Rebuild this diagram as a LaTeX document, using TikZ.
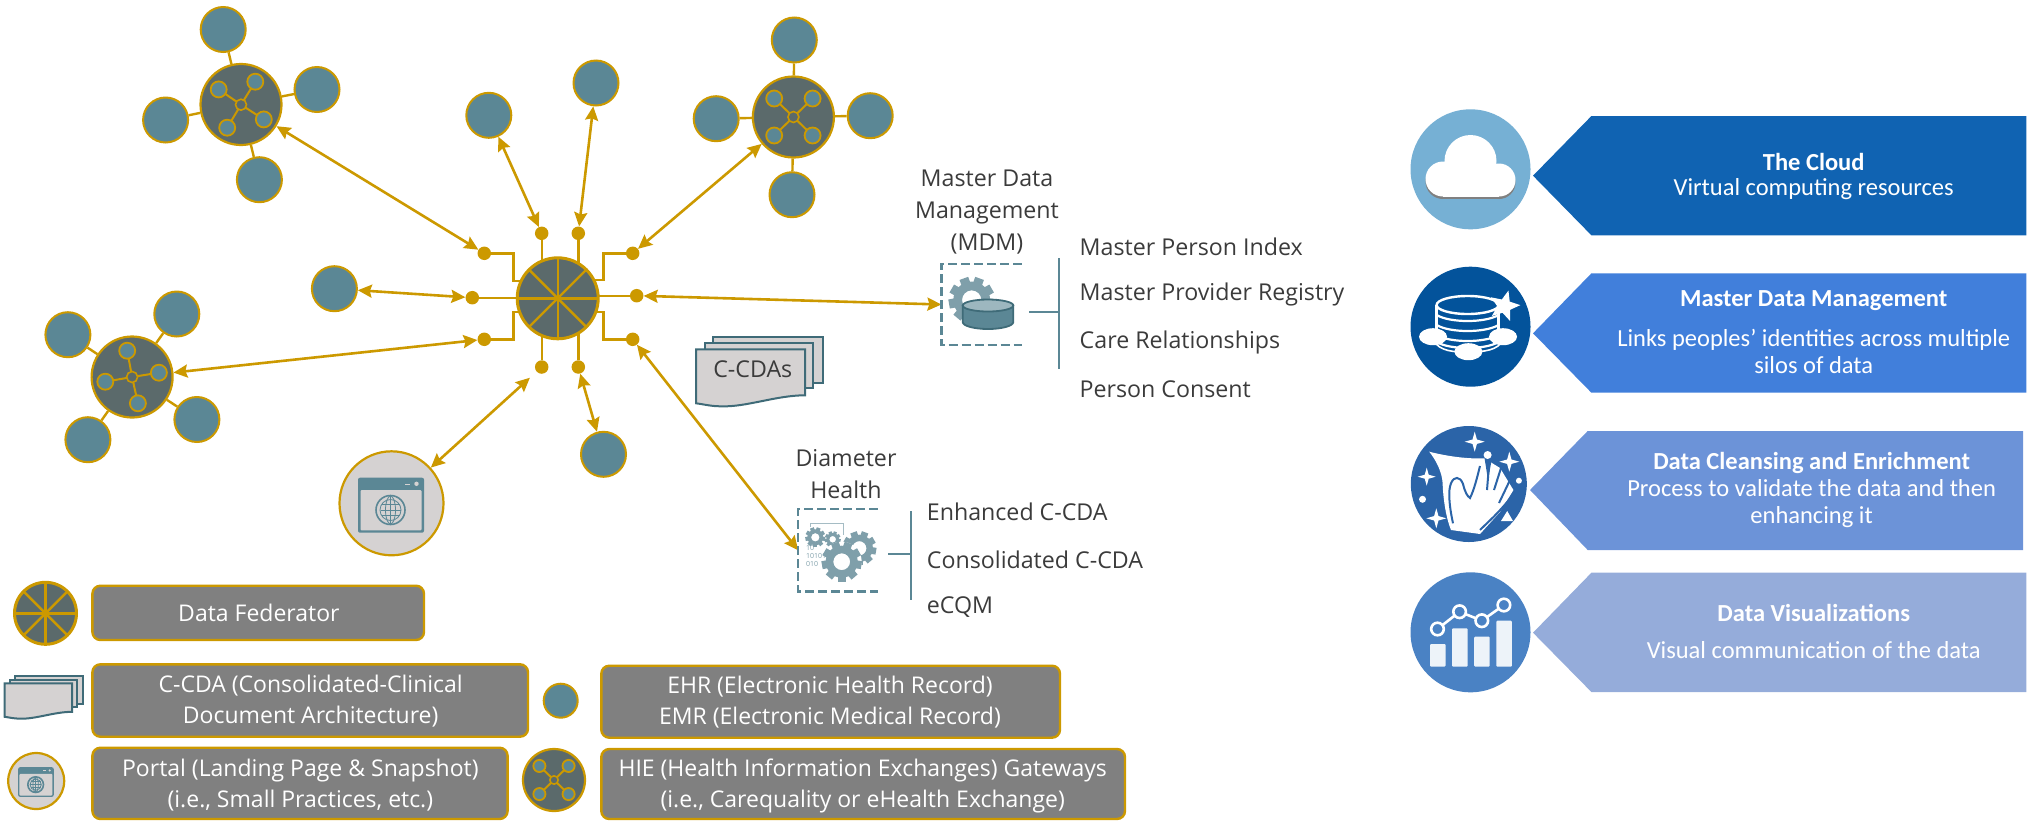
\documentclass[tikz,border=0pt]{standalone}
\usepackage{fontspec}
\setmainfont{Open Sans}
\newfontfamily\panelfont{Carlito}
\usetikzlibrary{arrows.meta,shapes.geometric,backgrounds}
\definecolor{gold}{HTML}{CC9900}
\definecolor{sat}{HTML}{5B8795}
\definecolor{hubdark}{HTML}{5B6A6B}
\definecolor{docgray}{HTML}{D5D2D2}
\definecolor{docline}{HTML}{3F6B78}
\definecolor{legendgray}{HTML}{808080}
\definecolor{inktext}{HTML}{3B3B3B}
\definecolor{gearcol}{HTML}{7F9FAA}
\definecolor{panelA}{RGB}{16,99,178}
\definecolor{panelB}{RGB}{65,127,219}
\definecolor{panelC}{RGB}{108,147,216}
\definecolor{panelD}{RGB}{149,172,218}
\definecolor{circA}{RGB}{118,176,212}
\definecolor{circB}{RGB}{3,83,155}
\definecolor{circC}{RGB}{43,100,168}
\definecolor{circD}{RGB}{74,130,196}
\newcommand{\sz}[2]{\fontsize{#1}{#2}\selectfont}
\newcommand{\hubcore}[3]{\begin{scope}[shift={#1},scale=#2]
  \foreach \dx/\dy in {#3}{\draw[gold,line width=2pt] (0,0)--(\dx,\dy);\draw[gold,line width=1.8pt,fill=sat] (\dx,\dy) circle (8);}
  \draw[gold,line width=1.6pt,fill=hubdark] (0,0) circle (5.5);
\end{scope}}
\newcommand{\fedspokes}[2]{\begin{scope}[shift={#1},scale=#2]
  \foreach \a in {0,45,90,135}{\draw[gold,line width=2.4pt] (\a:-40)--(\a:40);}
\end{scope}}
\newcommand{\fourstar}[3]{\fill[white] (#1,#2-#3) -- (#1+.22*#3,#2-.22*#3) -- (#1+#3,#2) -- (#1+.22*#3,#2+.22*#3) -- (#1,#2+#3) -- (#1-.22*#3,#2+.22*#3) -- (#1-#3,#2) -- (#1-.22*#3,#2-.22*#3) -- cycle;}
\tikzset{
  x=1pt,y=-1pt,
  satnode/.style={circle,draw=gold,fill=sat,line width=2pt,minimum size=45pt,inner sep=0pt},
  hubnode/.style={circle,draw=gold,fill=hubdark,line width=2.2pt,minimum size=81pt,inner sep=0pt},
  fednode/.style={circle,draw=gold,fill=hubdark,line width=3pt,minimum size=81pt,inner sep=0pt},
  dotnode/.style={circle,fill=gold,minimum size=13.5pt,inner sep=0pt},
  portalnode/.style={circle,draw=gold,fill=docgray,line width=2.2pt,minimum size=104pt,inner sep=0pt},
  goldline/.style={gold,line width=2.4pt},
  dbl/.style={gold,line width=2.6pt,{Stealth[length=14pt,width=13pt,inset=2pt]}-{Stealth[length=14pt,width=13pt,inset=2pt]}},
  tealline/.style={sat,line width=1.8pt},
  dashbox/.style={sat,line width=2.5pt,dash pattern=on 9pt off 4pt},
  invisbox/.style={rectangle,inner sep=0pt,draw=none},
  legend/.style={rounded corners=8pt,draw=gold,fill=legendgray,line width=2.4pt},
  legendtext/.style={text=white,align=center,font=\sz{23}{31.5}},
  inklabel/.style={text=inktext,align=center,font=\sz{23.2}{32}},
  inklist/.style={text=inktext,anchor=west,font=\sz{23.2}{25},inner sep=0pt},
  panelhead/.style={text=white,font=\panelfont\bfseries\sz{24.5}{27}},
  paneltext/.style={text=white,align=center,font=\panelfont\sz{24.5}{27}},
  docpage/.style={draw=docline,fill=docgray,line width=2pt},
  gearpic/.pic={\foreach \a in {0,40,...,320}{\fill[gearcol,rotate=\a] (-.2,.7) rectangle (.2,1);}
     \fill[gearcol,even odd rule] (0,0) circle (.8) (0,0) circle (.42);},
  docstack/.pic={
     \draw[docpage] (17,-12) rectangle (127,34);
     \draw[docpage] (9,-6) rectangle (117,39);
     \draw[docpage] (0,0) -- (109,0) -- (109,46) .. controls (80,46) and (50,58) .. (25,57) .. controls (15,57) and (8,55) .. (0,54) -- cycle;},
  portalicon/.pic={
     \fill[sat,rounded corners=2pt] (-33.5,-25.6) rectangle (32.5,29.4);
     \fill[docgray,rounded corners=1pt] (-31,-13.3) rectangle (30,27);
     \fill[docgray] (13,-19.5) rectangle (18,-18);
     \fill[docgray] (25,-19.5) circle (2.2);
     \draw[sat,line width=1.6pt] (-1,6.7) circle (14.5);
     \draw[sat,line width=.8pt] (-1,6.7) circle (10.5);
     \draw[sat,line width=.8pt] (-1,-7.8) -- (-1,21.2) (-11,6.7) -- (9,6.7) (-10,1) -- (8,1) (-10,12.4) -- (8,12.4);
     \draw[sat,line width=.8pt] (-1,6.7) ellipse (5 and 14);},
}
\begin{document}
\begin{tikzpicture}
\useasboundingbox (0,0) rectangle (2034,820);
% hubs and satellites
\node[hubnode] (h1) at (241,104.5) {};
\node[satnode] (h1a) at (223.2,29.5) {};
\node[satnode] (h1b) at (317,89.5) {};
\node[satnode] (h1c) at (165.6,120) {};
\node[satnode] (h1d) at (259.4,179.7) {};
\node[hubnode] (h2) at (132.1,377) {};
\node[satnode] (h2a) at (176.8,314) {};
\node[satnode] (h2b) at (67.9,334.7) {};
\node[satnode] (h2c) at (196.9,419.5) {};
\node[satnode] (h2d) at (87.9,439.7) {};
\node[hubnode] (h3) at (793.4,117) {};
\node[satnode] (h3a) at (794.3,40) {};
\node[satnode] (h3b) at (870.2,115.7) {};
\node[satnode] (h3c) at (716.2,118.7) {};
\node[satnode] (h3d) at (792,194.7) {};
\node[fednode] (fed) at (557.7,298.3) {};
\node[satnode] (s1) at (488.8,115.3) {};
\node[satnode] (s2) at (596,83) {};
\node[satnode] (s3) at (334.4,288.7) {};
\node[satnode] (s4) at (603.5,454.3) {};
\node[portalnode] (portal) at (391.5,503.3) {};
\pic at (391.5,503.3) {portalicon};
% dots
\node[dotnode] (d1) at (484.3,253.3) {};
\node[dotnode] (d2) at (541.7,233.3) {};
\node[dotnode] (d3) at (578.3,233.3) {};
\node[dotnode] (d4) at (632.7,253.3) {};
\node[dotnode] (d5) at (472.3,297.7) {};
\node[dotnode] (d7) at (636.7,295.7) {};
\node[dotnode] (d6) at (484.3,339.3) {};
\node[dotnode] (d8) at (632.7,339.3) {};
\node[dotnode] (d10) at (541.7,367) {};
\node[dotnode] (d9) at (578.3,367) {};
\coordinate (e1) at (513.3,281);
\coordinate (e4) at (603.3,280);
\coordinate (e6) at (513.3,311.7);
\coordinate (e8) at (603.3,311.7);
% MDM and Diameter boxes
\node[invisbox,minimum width=80pt,minimum height=81pt] (mdm) at (981.6,304.5) {};
\node[invisbox,minimum width=79.4pt,minimum height=81.7pt] (dh) at (838,550.2) {};
\coordinate (b1t) at (1059,258);
\coordinate (b1b) at (1059,369);
\coordinate (b1l) at (1029.3,312.3);
\coordinate (b2t) at (910.7,511);
\coordinate (b2b) at (910.7,600);
\coordinate (b2l) at (888.3,554);
\begin{pgfonlayer}{background}
  \foreach \h in {h1,h2,h3}{\foreach \s in {a,b,c,d}{\draw[goldline] (\h) -- (\h\s);}}
  \draw[goldline] (d1) -| (e1) -- (e1 -| fed);
  \draw[goldline] (d4) -| (e4) -- (e4 -| fed);
  \draw[goldline] (d6) -| (e6) -- (e6 -| fed);
  \draw[goldline] (d8) -| (e8) -- (e8 -| fed);
  \draw[goldline] (d2) -- (d2 |- fed);
  \draw[goldline] (d3) -- (d3 |- fed);
  \draw[goldline] (d10) -- (d10 |- fed);
  \draw[goldline] (d9) -- (d9 |- fed);
  \draw[goldline] (d5) -- (d5 -| fed);
  \draw[goldline] (d7) -- (d7 -| fed);
\end{pgfonlayer}
\hubcore{(241,104.7)}{1}{-22.3/-15.3,14.3/-23,22.8/14.7,-13.8/23}
\hubcore{(132.1,377)}{1}{-4.9/-26.3,26.8/-4.3,5.8/26.3,-26.8/4.7}
\hubcore{(793.4,117)}{1}{-19.2/-18.5,19.2/-18.5,-19.2/18.5,19.2/18.5}
\fedspokes{(557.7,298.3)}{1}
% arrows
\draw[dbl] (d1) -- (h1);
\draw[dbl] (d2) -- (s1);
\draw[dbl] (d3) -- (s2);
\draw[dbl] (d4) -- (h3);
\draw[dbl] (d5) -- (s3);
\draw[dbl] (d6) -- (h2);
\draw[dbl] (d7) -- (mdm.west);
\draw[dbl] (d8) -- (dh.west);
\draw[dbl] (d9) -- (s4);
\draw[dbl,shorten <=9pt] (d10) -- (portal);
% C-CDAs
\pic at (696,349.3) {docstack};
\node[text=inktext,font=\sz{23.2}{25},inner sep=0pt] (ccda) at (752.8,369) {C-CDAs};
% MDM
\draw[dashbox] (mdm.north east) -- (mdm.north west) -- (mdm.south west) -- (mdm.south east);
\pic[scale=23] at (971.7,300) {gearpic};
\draw[docline,line width=1.8pt,fill=sat] (962.7,305.5) -- (962.7,322) arc[start angle=180,end angle=0,x radius=25.3,y radius=7] -- (1013.3,305.5) -- cycle;
\draw[docline,line width=1.8pt,fill=sat!60!white] (988,305.5) ellipse (25.3 and 6);
\draw[tealline] (b1t) -- (b1b);
\draw[tealline] (b1l) -- (b1l -| b1t);
\node[inklabel] (mdmlabel) at (987,212) {Master Data\\Management\\(MDM)};
\node[inklist] (m1) at (1079.5,246.7) {Master Person Index};
\node[inklist] (m2) at (1079.5,294) {Master Provider Registry};
\node[inklist] (m3) at (1079.5,342) {Care Relationships};
\node[inklist] (m4) at (1079.5,389) {Person Consent};
% Diameter
\draw[dashbox] (dh.north east) -- (dh.north west) -- (dh.south west) -- (dh.south east);
\draw[gearcol!70!white,line width=1pt] (810,527) -- (810,523.5) -- (843,523.5) -- (843,535);
\pic[scale=10] at (815.3,537.3) {gearpic};
\pic[scale=8] at (832.7,539.3) {gearpic};
\pic[scale=17] at (859.3,548.3) {gearpic};
\fill[white] (841.7,561.7) circle (20);
\pic[scale=20] at (841.7,561.7) {gearpic};
\node[text=gearcol,font=\sz{7}{8},align=left,inner sep=0pt,anchor=north west] (bin) at (806,545) {10\\10101\\010};
\draw[tealline] (b2t) -- (b2b);
\draw[tealline] (b2l) -- (b2l -| b2t);
\node[inklabel] (dhlabel) at (846,473.7) {Diameter\\Health};
\node[inklist] (e1t) at (926.7,511.7) {Enhanced C-CDA};
\node[inklist] (e2t) at (926.7,559.3) {Consolidated C-CDA};
\node[inklist] (e3t) at (926.7,606.7) {eCQM};
% legend
\draw[legend] (92.4,585.7) rectangle (424,640);
\draw[legend] (92.4,664.3) rectangle (528,736.7);
\draw[legend] (92.4,747.7) rectangle (507.6,819);
\draw[legend] (601.3,665.7) rectangle (1060,737.7);
\draw[legend] (601.3,749) rectangle (1125,819);
\node[legendtext] (l1) at (258.9,613.3) {Data Federator};
\node[legendtext] (l2) at (310.7,701.3) {C-CDA (Consolidated-Clinical\\Document Architecture)};
\node[legendtext] (l3) at (300.4,785) {Portal (Landing Page \& Snapshot)\\(i.e., Small Practices, etc.)};
\node[legendtext] (l4) at (830,702.2) {EHR (Electronic Health Record)\\EMR (Electronic Medical Record)};
\node[legendtext] (l5) at (862.7,786) {HIE (Health Information Exchanges) Gateways\\(i.e., Carequality or eHealth Exchange)};
\node[fednode,minimum size=62pt] (lf) at (45.5,613.3) {};
\fedspokes{(45.5,613.3)}{.78}
\pic[scale=.62] at (4.5,683.3) {docstack};
\node[satnode,minimum size=34pt] (ls) at (560.7,700.7) {};
\node[portalnode,minimum size=56pt] (lp) at (36.2,781) {};
\pic[scale=.54] at (36.2,781) {portalicon};
\node[hubnode,minimum size=62pt] (lh) at (554,780) {};
\hubcore{(554,780)}{.76}{-19.2/-18.5,19.2/-18.5,-19.2/18.5,19.2/18.5}
% right panels
\fill[panelA] (1533,175.7) -- (1591.4,116) -- (2026.4,116) -- (2026.4,235.3) -- (1591.4,235.3) -- cycle;
\fill[panelB] (1533,333.3) -- (1591.4,273.3) -- (2026.4,273.3) -- (2026.4,392.7) -- (1591.4,392.7) -- cycle;
\fill[panelC] (1530,490) -- (1587.7,431) -- (2023,431) -- (2023,550) -- (1587.7,550) -- cycle;
\fill[panelD] (1533,632.7) -- (1591.4,572.7) -- (2026.4,572.7) -- (2026.4,692) -- (1591.4,692) -- cycle;
\node[panelhead] (p1a) at (1813.7,162.3) {The Cloud};
\node[paneltext] (p1b) at (1813.7,189) {Virtual computing resources};
\node[panelhead] (p2a) at (1813.7,300.7) {Master Data Management};
\node[paneltext] (p2b) at (1813.7,351.3) {Links peoples’ identities across multiple\\silos of data};
\node[panelhead] (p3a) at (1811.6,463.3) {Data Cleansing and Enrichment};
\node[paneltext] (p3b) at (1811.6,503.7) {Process to validate the data and then\\enhancing it};
\node[panelhead] (p4a) at (1813.7,613.3) {Data Visualizations};
\node[paneltext] (p4b) at (1813.7,650) {Visual communication of the data};
% cloud icon
\fill[circA] (1470.5,169.3) circle (60);
\begin{scope}[shift={(0,2.5)}]
\fill[gray] (1443,179) circle (17.5);
\fill[gray] (1499,180) circle (16.5);
\fill[gray] (1443,179) rectangle (1499,196.5);
\end{scope}
\fill[white] (1443,179) circle (17.5);
\fill[white] (1450,170) circle (10);
\fill[white] (1470.5,161) circle (26);
\fill[white] (1499,180) circle (16.5);
\fill[white] (1443,175) rectangle (1499,196.5);
% MDM icon
\fill[circB] (1470.5,326.7) circle (60);
\draw[white,line width=2.4pt] (1467.6,305) ellipse (31 and 9);
\draw[white,line width=2.4pt] (1436.6,305) -- (1436.6,338) (1498.6,305) -- (1498.6,338);
\foreach \yy in {315,325,335,342}{\draw[white,line width=2.2pt] (1436.6,\yy) .. controls (1450,\yy+8) and (1485,\yy+8) .. (1498.6,\yy);}
\draw[white,line width=1.6pt] (1433,340) .. controls (1440,352) and (1455,352) .. (1468,352) .. controls (1485,352) and (1498,350) .. (1503,340);
\fill[white] (1433,336.7) ellipse (14 and 8.5);
\fill[white] (1503,336.7) ellipse (14 and 8.5);
\fill[white] (1468.4,351.7) ellipse (14 and 8.5);
\node[star,star points=5,star point ratio=2.3,fill=white,minimum size=32pt,inner sep=0pt,rotate=-15] (mstar) at (1504.3,306) {};
% cleansing icon
\fill[circC] (1468.8,484) circle (58);
\fill[white] (1429.2,451.7) .. controls (1450,457) and (1470,459) .. (1484.3,458.3) -- (1500,468) -- (1513.4,490) -- (1500,512) -- (1480,534) -- (1451,530) .. controls (1445,515) and (1443,495) .. (1442.6,483) .. controls (1442,472) and (1436,460) .. (1429.2,451.7) -- cycle;
\fill[circC] (1484.5,458) -- (1492,458) -- (1488,480) -- cycle;
\draw[line width=2pt,draw=circC] (1453,523.3) .. controls (1449,505) and (1448,490) .. (1451,483.3) .. controls (1454,476) and (1460,476) .. (1463,484) .. controls (1465,492) and (1467,496) .. (1470,498) .. controls (1474,490) and (1477,478) .. (1480,466);
\draw[line width=2pt,draw=circC] (1487,490) -- (1489,465) (1494,490) -- (1501,468) (1499,503) -- (1510,480) (1480,530) .. controls (1490,520) and (1500,512) .. (1515,492);
\fourstar{1474.7}{441.7}{10}
\fourstar{1509.3}{461.7}{10}
\fourstar{1426.7}{476.7}{9}
\fourstar{1436.3}{518.3}{10}
\fill[white] (1487.6,455) circle (4);
\fill[white] (1518.9,480.7) circle (3);
\fill[white] (1422.5,499.3) circle (3.5);
\fill[white] (1507.2,511) -- (1513,521) -- (1501,521) -- cycle;
% chart icon
\fill[circD] (1470.5,632.3) circle (60);
\foreach \xa/\xb/\yt in {1430/1445.5/644,1452/1467.6/628.3,1474.2/1489.7/636.7,1496.3/1511.8/620.7}{
  \fill[white!90!circD,rounded corners=1pt] (\xa,\yt) rectangle (\xb,666.7);}
\draw[white,line width=2.6pt] (1437.5,629) -- (1459.6,611.7) -- (1481.8,620.7) -- (1503.9,605);
\foreach \px/\py in {1437.5/629,1459.6/611.7,1481.8/620.7,1503.9/605}{
  \draw[white,line width=2.6pt,fill=circD] (\px,\py) circle (6.3);}
\end{tikzpicture}
\end{document}
